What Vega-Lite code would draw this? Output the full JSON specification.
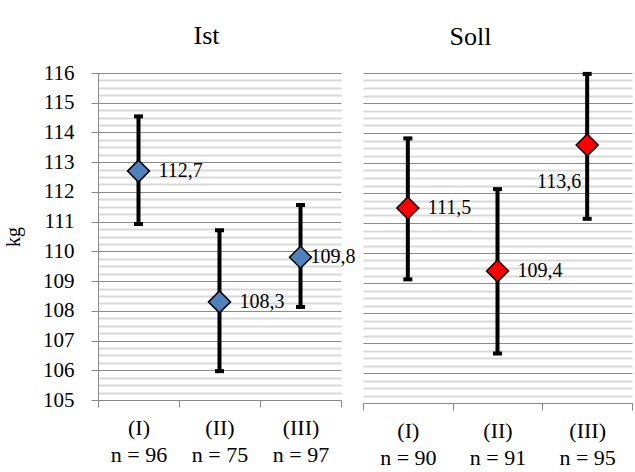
{
  "$schema": "https://vega.github.io/schema/vega-lite/v6.json",
  "background": "white",
  "padding": {"left": 3, "top": 23, "right": 2, "bottom": 0},
  "bounds": "flush",
  "spacing": 22,
  "config": {
    "view": {"stroke": null},
    "font": "Liberation Serif",
    "mark": {"font": "Liberation Serif"},
    "text": {"font": "Liberation Serif"},
    "title": {"font": "Liberation Serif", "fontSize": 26, "fontWeight": "normal", "color": "#000000"},
    "axis": {"labelFont": "Liberation Serif", "titleFont": "Liberation Serif", "labelColor": "#000000", "titleColor": "#000000", "domainColor": "#898989", "tickColor": "#898989"}
  },
  "datasets": {
    "d": [
      {"panel": "Ist", "cat": "(I)|n = 96", "mean": 112.7, "lo": 110.92, "hi": 114.54, "label": "112,7"},
      {"panel": "Ist", "cat": "(II)|n = 75", "mean": 108.3, "lo": 105.97, "hi": 110.71, "label": "108,3"},
      {"panel": "Ist", "cat": "(III)|n = 97", "mean": 109.8, "lo": 108.13, "hi": 111.56, "label": "109,8"},
      {"panel": "Soll", "cat": "(I)|n = 90", "mean": 111.5, "lo": 109.12, "hi": 113.82, "label": "111,5"},
      {"panel": "Soll", "cat": "(II)|n = 91", "mean": 109.4, "lo": 106.65, "hi": 112.13, "label": "109,4"},
      {"panel": "Soll", "cat": "(III)|n = 95", "mean": 113.6, "lo": 111.14, "hi": 115.97, "label": "113,6"}
    ]
  },
  "hconcat": [
    {
      "width": 243,
      "height": 327,
      "title": {"text": "Ist", "dx": -13, "offset": 13},
      "data": {"name": "d"},
      "transform": [{"filter": "datum.panel === 'Ist'"}],
      "encoding": {
        "x": {"field": "cat", "type": "nominal", "sort": null, "scale": {"paddingInner": 0, "paddingOuter": 0},
          "axis": {"title": null, "labelAngle": 0, "labelExpr": "split(datum.label, '|')", "labelFont": "Liberation Serif", "labelFontSize": 22, "labelLineHeight": 27, "tickBand": "extent", "tickSize": 7, "labelPadding": 10, "grid": false, "domainColor": "#898989"}}
      },
      "layer": [
        {"mark": {"type": "rule", "strokeWidth": 4, "color": "#000000"},
          "encoding": {
            "y": {"field": "lo", "type": "quantitative", "scale": {"domain": [105, 116], "nice": false, "zero": false},
              "axis": {"title": "kg", "titleFont": "Liberation Serif", "titleFontSize": 20, "titleFontWeight": "normal", "titlePadding": 19,
                "values": [105,105.25,105.5,105.75,106,106.25,106.5,106.75,107,107.25,107.5,107.75,108,108.25,108.5,108.75,109,109.25,109.5,109.75,110,110.25,110.5,110.75,111,111.25,111.5,111.75,112,112.25,112.5,112.75,113,113.25,113.5,113.75,114,114.25,114.5,114.75,115,115.25,115.5,115.75,116],
                "labelExpr": "datum.value % 1 === 0 ? format(datum.value, 'd') : ''", "labelOverlap": false, "labelFont": "Liberation Serif",
                "labelFontSize": 21, "labelPadding": 17, "tickSize": 7,
                "tickOpacity": {"condition": {"test": "datum.value % 1 === 0", "value": 1}, "value": 0},
                "gridColor": {"condition": {"test": "datum.value % 1 === 0", "value": "#8c8c8c"}, "value": "#d9d9d9"},
                "gridWidth": {"condition": {"test": "datum.value % 1 === 0", "value": 1}, "value": 2},
                "domainColor": "#898989"}},
            "y2": {"field": "hi"}
          }},
        {"mark": {"type": "tick", "thickness": 4, "size": 9, "color": "#000000", "opacity": 1},
          "encoding": {"y": {"field": "lo", "type": "quantitative",
              "axis": {"title": "kg", "titleFont": "Liberation Serif", "titleFontSize": 20, "titleFontWeight": "normal", "titlePadding": 19,
                "values": [105,105.25,105.5,105.75,106,106.25,106.5,106.75,107,107.25,107.5,107.75,108,108.25,108.5,108.75,109,109.25,109.5,109.75,110,110.25,110.5,110.75,111,111.25,111.5,111.75,112,112.25,112.5,112.75,113,113.25,113.5,113.75,114,114.25,114.5,114.75,115,115.25,115.5,115.75,116],
                "labelExpr": "datum.value % 1 === 0 ? format(datum.value, 'd') : ''", "labelOverlap": false, "labelFont": "Liberation Serif",
                "labelFontSize": 21, "labelPadding": 17, "tickSize": 7,
                "tickOpacity": {"condition": {"test": "datum.value % 1 === 0", "value": 1}, "value": 0},
                "gridColor": {"condition": {"test": "datum.value % 1 === 0", "value": "#8c8c8c"}, "value": "#d9d9d9"},
                "gridWidth": {"condition": {"test": "datum.value % 1 === 0", "value": 1}, "value": 2},
                "domainColor": "#898989"}}}},
        {"mark": {"type": "tick", "thickness": 4, "size": 9, "color": "#000000", "opacity": 1},
          "encoding": {"y": {"field": "hi", "type": "quantitative",
              "axis": {"title": "kg", "titleFont": "Liberation Serif", "titleFontSize": 20, "titleFontWeight": "normal", "titlePadding": 19,
                "values": [105,105.25,105.5,105.75,106,106.25,106.5,106.75,107,107.25,107.5,107.75,108,108.25,108.5,108.75,109,109.25,109.5,109.75,110,110.25,110.5,110.75,111,111.25,111.5,111.75,112,112.25,112.5,112.75,113,113.25,113.5,113.75,114,114.25,114.5,114.75,115,115.25,115.5,115.75,116],
                "labelExpr": "datum.value % 1 === 0 ? format(datum.value, 'd') : ''", "labelOverlap": false, "labelFont": "Liberation Serif",
                "labelFontSize": 21, "labelPadding": 17, "tickSize": 7,
                "tickOpacity": {"condition": {"test": "datum.value % 1 === 0", "value": 1}, "value": 0},
                "gridColor": {"condition": {"test": "datum.value % 1 === 0", "value": "#8c8c8c"}, "value": "#d9d9d9"},
                "gridWidth": {"condition": {"test": "datum.value % 1 === 0", "value": 1}, "value": 2},
                "domainColor": "#898989"}}}},
        {"mark": {"type": "point", "shape": "diamond", "size": 484, "filled": true, "fill": "#4F81BD", "stroke": "#000000", "strokeWidth": 1.5, "opacity": 1},
          "encoding": {"y": {"field": "mean", "type": "quantitative",
              "axis": {"title": "kg", "titleFont": "Liberation Serif", "titleFontSize": 20, "titleFontWeight": "normal", "titlePadding": 19,
                "values": [105,105.25,105.5,105.75,106,106.25,106.5,106.75,107,107.25,107.5,107.75,108,108.25,108.5,108.75,109,109.25,109.5,109.75,110,110.25,110.5,110.75,111,111.25,111.5,111.75,112,112.25,112.5,112.75,113,113.25,113.5,113.75,114,114.25,114.5,114.75,115,115.25,115.5,115.75,116],
                "labelExpr": "datum.value % 1 === 0 ? format(datum.value, 'd') : ''", "labelOverlap": false, "labelFont": "Liberation Serif",
                "labelFontSize": 21, "labelPadding": 17, "tickSize": 7,
                "tickOpacity": {"condition": {"test": "datum.value % 1 === 0", "value": 1}, "value": 0},
                "gridColor": {"condition": {"test": "datum.value % 1 === 0", "value": "#8c8c8c"}, "value": "#d9d9d9"},
                "gridWidth": {"condition": {"test": "datum.value % 1 === 0", "value": 1}, "value": 2},
                "domainColor": "#898989"}}}},
        {"transform": [{"filter": "datum.label !== '109,8'"}],
          "mark": {"type": "text", "align": "left", "baseline": "middle", "dx": 20, "fontSize": 20, "font": "Liberation Serif", "color": "#000000"},
          "encoding": {"y": {"field": "mean", "type": "quantitative",
              "axis": {"title": "kg", "titleFont": "Liberation Serif", "titleFontSize": 20, "titleFontWeight": "normal", "titlePadding": 19,
                "values": [105,105.25,105.5,105.75,106,106.25,106.5,106.75,107,107.25,107.5,107.75,108,108.25,108.5,108.75,109,109.25,109.5,109.75,110,110.25,110.5,110.75,111,111.25,111.5,111.75,112,112.25,112.5,112.75,113,113.25,113.5,113.75,114,114.25,114.5,114.75,115,115.25,115.5,115.75,116],
                "labelExpr": "datum.value % 1 === 0 ? format(datum.value, 'd') : ''", "labelOverlap": false, "labelFont": "Liberation Serif",
                "labelFontSize": 21, "labelPadding": 17, "tickSize": 7,
                "tickOpacity": {"condition": {"test": "datum.value % 1 === 0", "value": 1}, "value": 0},
                "gridColor": {"condition": {"test": "datum.value % 1 === 0", "value": "#8c8c8c"}, "value": "#d9d9d9"},
                "gridWidth": {"condition": {"test": "datum.value % 1 === 0", "value": 1}, "value": 2},
                "domainColor": "#898989"}}, "text": {"field": "label"}}},
        {"transform": [{"filter": "datum.label === '109,8'"}],
          "mark": {"type": "text", "align": "left", "baseline": "middle", "dx": 10, "fontSize": 20, "font": "Liberation Serif", "color": "#000000"},
          "encoding": {"y": {"field": "mean", "type": "quantitative",
              "axis": {"title": "kg", "titleFont": "Liberation Serif", "titleFontSize": 20, "titleFontWeight": "normal", "titlePadding": 19,
                "values": [105,105.25,105.5,105.75,106,106.25,106.5,106.75,107,107.25,107.5,107.75,108,108.25,108.5,108.75,109,109.25,109.5,109.75,110,110.25,110.5,110.75,111,111.25,111.5,111.75,112,112.25,112.5,112.75,113,113.25,113.5,113.75,114,114.25,114.5,114.75,115,115.25,115.5,115.75,116],
                "labelExpr": "datum.value % 1 === 0 ? format(datum.value, 'd') : ''", "labelOverlap": false, "labelFont": "Liberation Serif",
                "labelFontSize": 21, "labelPadding": 17, "tickSize": 7,
                "tickOpacity": {"condition": {"test": "datum.value % 1 === 0", "value": 1}, "value": 0},
                "gridColor": {"condition": {"test": "datum.value % 1 === 0", "value": "#8c8c8c"}, "value": "#d9d9d9"},
                "gridWidth": {"condition": {"test": "datum.value % 1 === 0", "value": 1}, "value": 2},
                "domainColor": "#898989"}}, "text": {"field": "label"}}}
      ]
    },
    {
      "width": 269,
      "height": 330,
      "title": {"text": "Soll", "dx": -27, "offset": 22},
      "data": {"name": "d"},
      "transform": [{"filter": "datum.panel === 'Soll'"}],
      "encoding": {
        "x": {"field": "cat", "type": "nominal", "sort": null, "scale": {"paddingInner": 0, "paddingOuter": 0},
          "axis": {"title": null, "labelAngle": 0, "labelExpr": "split(datum.label, '|')", "labelFont": "Liberation Serif", "labelFontSize": 22, "labelLineHeight": 27, "tickBand": "extent", "tickSize": 7, "labelPadding": 10, "grid": false, "domainColor": "#898989"}}
      },
      "layer": [
        {"mark": {"type": "rule", "strokeWidth": 4, "color": "#000000"},
          "encoding": {
            "y": {"field": "lo", "type": "quantitative", "scale": {"domain": [105, 116], "nice": false, "zero": false},
              "axis": {"title": null, "labels": false, "ticks": false, "domain": false,
                "values": [105,105.25,105.5,105.75,106,106.25,106.5,106.75,107,107.25,107.5,107.75,108,108.25,108.5,108.75,109,109.25,109.5,109.75,110,110.25,110.5,110.75,111,111.25,111.5,111.75,112,112.25,112.5,112.75,113,113.25,113.5,113.75,114,114.25,114.5,114.75,115,115.25,115.5,115.75,116],
                "gridColor": {"condition": {"test": "datum.value % 1 === 0", "value": "#8c8c8c"}, "value": "#d9d9d9"},
                "gridWidth": {"condition": {"test": "datum.value % 1 === 0", "value": 1}, "value": 2}}},
            "y2": {"field": "hi"}
          }},
        {"mark": {"type": "tick", "thickness": 4, "size": 9, "color": "#000000", "opacity": 1},
          "encoding": {"y": {"field": "lo", "type": "quantitative",
              "axis": {"title": null, "labels": false, "ticks": false, "domain": false,
                "values": [105,105.25,105.5,105.75,106,106.25,106.5,106.75,107,107.25,107.5,107.75,108,108.25,108.5,108.75,109,109.25,109.5,109.75,110,110.25,110.5,110.75,111,111.25,111.5,111.75,112,112.25,112.5,112.75,113,113.25,113.5,113.75,114,114.25,114.5,114.75,115,115.25,115.5,115.75,116],
                "gridColor": {"condition": {"test": "datum.value % 1 === 0", "value": "#8c8c8c"}, "value": "#d9d9d9"},
                "gridWidth": {"condition": {"test": "datum.value % 1 === 0", "value": 1}, "value": 2}}}}},
        {"mark": {"type": "tick", "thickness": 4, "size": 9, "color": "#000000", "opacity": 1},
          "encoding": {"y": {"field": "hi", "type": "quantitative",
              "axis": {"title": null, "labels": false, "ticks": false, "domain": false,
                "values": [105,105.25,105.5,105.75,106,106.25,106.5,106.75,107,107.25,107.5,107.75,108,108.25,108.5,108.75,109,109.25,109.5,109.75,110,110.25,110.5,110.75,111,111.25,111.5,111.75,112,112.25,112.5,112.75,113,113.25,113.5,113.75,114,114.25,114.5,114.75,115,115.25,115.5,115.75,116],
                "gridColor": {"condition": {"test": "datum.value % 1 === 0", "value": "#8c8c8c"}, "value": "#d9d9d9"},
                "gridWidth": {"condition": {"test": "datum.value % 1 === 0", "value": 1}, "value": 2}}}}},
        {"mark": {"type": "point", "shape": "diamond", "size": 484, "filled": true, "fill": "#FF0000", "stroke": "#000000", "strokeWidth": 1.5, "opacity": 1},
          "encoding": {"y": {"field": "mean", "type": "quantitative",
              "axis": {"title": null, "labels": false, "ticks": false, "domain": false,
                "values": [105,105.25,105.5,105.75,106,106.25,106.5,106.75,107,107.25,107.5,107.75,108,108.25,108.5,108.75,109,109.25,109.5,109.75,110,110.25,110.5,110.75,111,111.25,111.5,111.75,112,112.25,112.5,112.75,113,113.25,113.5,113.75,114,114.25,114.5,114.75,115,115.25,115.5,115.75,116],
                "gridColor": {"condition": {"test": "datum.value % 1 === 0", "value": "#8c8c8c"}, "value": "#d9d9d9"},
                "gridWidth": {"condition": {"test": "datum.value % 1 === 0", "value": 1}, "value": 2}}}}},
        {"transform": [{"filter": "datum.label !== '113,6'"}],
          "mark": {"type": "text", "align": "left", "baseline": "middle", "dx": 20, "fontSize": 20, "font": "Liberation Serif", "color": "#000000"},
          "encoding": {"y": {"field": "mean", "type": "quantitative",
              "axis": {"title": null, "labels": false, "ticks": false, "domain": false,
                "values": [105,105.25,105.5,105.75,106,106.25,106.5,106.75,107,107.25,107.5,107.75,108,108.25,108.5,108.75,109,109.25,109.5,109.75,110,110.25,110.5,110.75,111,111.25,111.5,111.75,112,112.25,112.5,112.75,113,113.25,113.5,113.75,114,114.25,114.5,114.75,115,115.25,115.5,115.75,116],
                "gridColor": {"condition": {"test": "datum.value % 1 === 0", "value": "#8c8c8c"}, "value": "#d9d9d9"},
                "gridWidth": {"condition": {"test": "datum.value % 1 === 0", "value": 1}, "value": 2}}}, "text": {"field": "label"}}},
        {"transform": [{"filter": "datum.label === '113,6'"}],
          "mark": {"type": "text", "align": "right", "baseline": "middle", "dx": -6, "dy": 37, "fontSize": 20, "font": "Liberation Serif", "color": "#000000"},
          "encoding": {"y": {"field": "mean", "type": "quantitative",
              "axis": {"title": null, "labels": false, "ticks": false, "domain": false,
                "values": [105,105.25,105.5,105.75,106,106.25,106.5,106.75,107,107.25,107.5,107.75,108,108.25,108.5,108.75,109,109.25,109.5,109.75,110,110.25,110.5,110.75,111,111.25,111.5,111.75,112,112.25,112.5,112.75,113,113.25,113.5,113.75,114,114.25,114.5,114.75,115,115.25,115.5,115.75,116],
                "gridColor": {"condition": {"test": "datum.value % 1 === 0", "value": "#8c8c8c"}, "value": "#d9d9d9"},
                "gridWidth": {"condition": {"test": "datum.value % 1 === 0", "value": 1}, "value": 2}}}, "text": {"field": "label"}}}
      ]
    }
  ]
}
